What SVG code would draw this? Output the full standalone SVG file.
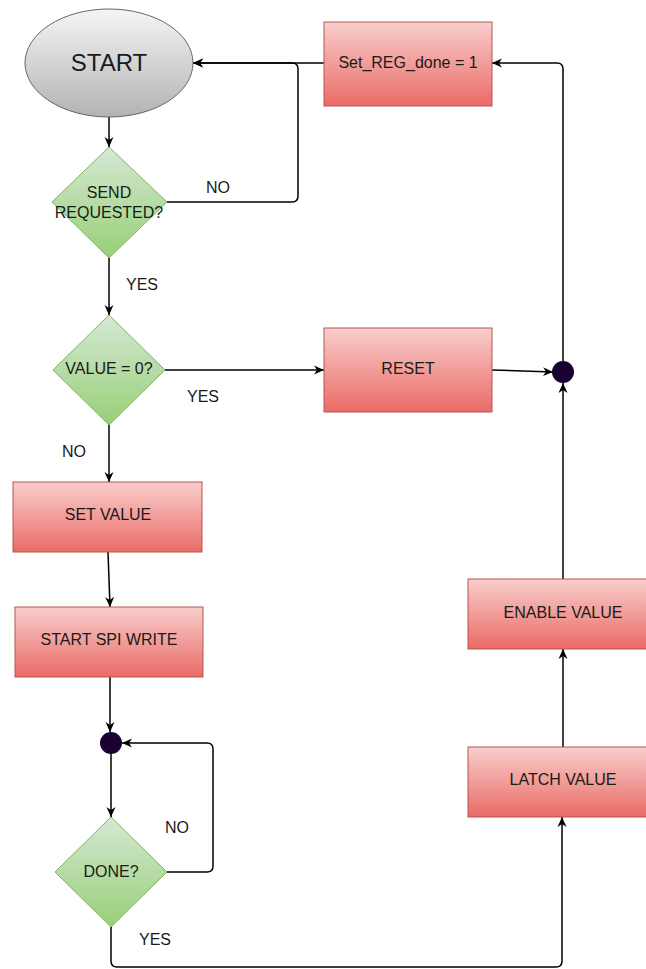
<svg xmlns="http://www.w3.org/2000/svg" width="646" height="969" viewBox="0 0 646 969">
  <defs>
    <linearGradient id="gRed" x1="0" y1="0" x2="0" y2="1">
      <stop offset="0" stop-color="#f8cecc"/>
      <stop offset="1" stop-color="#ea6b66"/>
    </linearGradient>
    <linearGradient id="gGreen" x1="0" y1="0" x2="0" y2="1">
      <stop offset="0" stop-color="#d5e8d4"/>
      <stop offset="1" stop-color="#97d077"/>
    </linearGradient>
    <linearGradient id="gGrey" x1="0" y1="0" x2="0" y2="1">
      <stop offset="0" stop-color="#f5f5f5"/>
      <stop offset="1" stop-color="#b3b3b3"/>
    </linearGradient>
    <marker id="arrow" viewBox="0 0 10 10" refX="10" refY="5" markerWidth="10" markerHeight="10" markerUnits="userSpaceOnUse" orient="auto">
      <path d="M0,0.5 L10,5 L0,9.5 L3,5 z" fill="#000"/>
    </marker>
  </defs>
  <style>
    .box { fill: url(#gRed); stroke: #b85450; stroke-width: 1; }
    .dec { fill: url(#gGreen); stroke: #82b366; stroke-width: 1; }
    .term { fill: url(#gGrey); stroke: #666666; stroke-width: 1; }
    .dot { fill: #1a0033; }
    .lbl { font-family: "Liberation Sans", Arial, sans-serif; font-size: 16px; fill: #1a1a1a; text-anchor: middle; dominant-baseline: central; }
    .big { font-size: 24px; }
    .edge { fill: none; stroke: #000; stroke-width: 1.5; }
    .arr { marker-end: url(#arrow); }
  </style>

  <rect width="646" height="969" fill="#ffffff"/>

  <!-- connectors -->
  <g id="connectors">
    <path class="edge arr" d="M109,117 V147"/>
    <path class="edge arr" d="M167,202 H292 Q298,202 298,196 V69 Q298,63 292,63 H193"/>
    <path class="edge arr" d="M324,63 H193"/>
    <path class="edge arr" d="M109,258 V315"/>
    <path class="edge arr" d="M165,370 H324"/>
    <path class="edge arr" d="M492,370 L553,372"/>
    <path class="edge arr" d="M109,425 V482"/>
    <path class="edge arr" d="M108,552 L110,607"/>
    <path class="edge arr" d="M110,677 V732"/>
    <path class="edge arr" d="M111,754 V817"/>
    <path class="edge arr" d="M167,872 H207 Q213,872 213,866 V749 Q213,743 207,743 H122"/>
    <path class="edge arr" d="M111,927 V961 Q111,967 117,967 H556 Q562,967 562,961 V817"/>
    <path class="edge arr" d="M563,747 V649"/>
    <path class="edge arr" d="M563,579 V383"/>
    <path class="edge arr" d="M563,361 V69 Q563,63 557,63 H492"/>
  </g>

  <!-- edge labels -->
  <g id="edge-labels">
    <text class="lbl" x="218" y="187">NO</text>
    <text class="lbl" x="142" y="284">YES</text>
    <text class="lbl" x="203" y="396">YES</text>
    <text class="lbl" x="74" y="451">NO</text>
    <text class="lbl" x="177" y="827">NO</text>
    <text class="lbl" x="155" y="939">YES</text>
  </g>

  <!-- nodes -->
  <g id="start">
    <ellipse class="term" cx="109" cy="63" rx="84" ry="54"/>
    <text class="lbl big" x="109" y="62">START</text>
  </g>
  <g id="send-requested">
    <polygon class="dec" points="109,147 167,202 109,258 52,202"/>
    <text class="lbl" x="109" y="192">SEND</text>
    <text class="lbl" x="109" y="212">REQUESTED?</text>
  </g>
  <g id="value-zero">
    <polygon class="dec" points="109,315 165,370 109,425 53,370"/>
    <text class="lbl" x="109" y="368">VALUE = 0?</text>
  </g>
  <g id="set-value">
    <rect class="box" x="13" y="482" width="189" height="70"/>
    <text class="lbl" x="108" y="514">SET VALUE</text>
  </g>
  <g id="start-spi-write">
    <rect class="box" x="15" y="607" width="188" height="70"/>
    <text class="lbl" x="109" y="639">START SPI WRITE</text>
  </g>
  <g id="wait-junction">
    <circle class="dot" cx="111" cy="743" r="11"/>
  </g>
  <g id="done">
    <polygon class="dec" points="111,817 167,872 111,927 55,872"/>
    <text class="lbl" x="111" y="871">DONE?</text>
  </g>
  <g id="latch-value">
    <rect class="box" x="468" y="747" width="190" height="70"/>
    <text class="lbl" x="563" y="779">LATCH VALUE</text>
  </g>
  <g id="enable-value">
    <rect class="box" x="468" y="579" width="190" height="70"/>
    <text class="lbl" x="563" y="612">ENABLE VALUE</text>
  </g>
  <g id="merge-junction">
    <circle class="dot" cx="563" cy="372" r="11"/>
  </g>
  <g id="reset">
    <rect class="box" x="324" y="328" width="168" height="84"/>
    <text class="lbl" x="408" y="368">RESET</text>
  </g>
  <g id="set-reg-done">
    <rect class="box" x="324" y="22" width="168" height="84"/>
    <text class="lbl" x="408" y="62">Set_REG_done = 1</text>
  </g>
</svg>
